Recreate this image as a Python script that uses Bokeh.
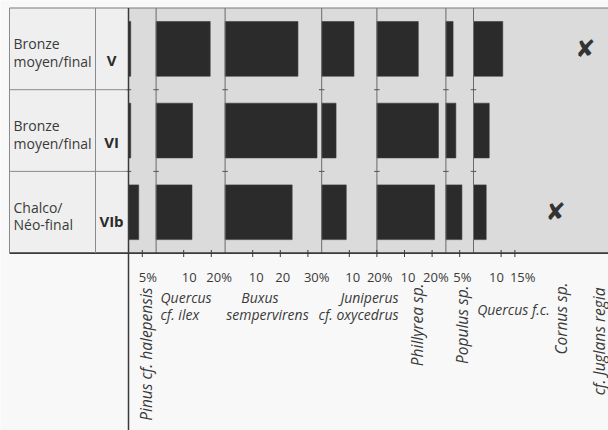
import math
from bokeh.plotting import figure
from bokeh.models import Range1d, ColumnDataSource
from bokeh.core.properties import value
from bokeh.embed import file_html
from bokeh.resources import INLINE

# ---------------- data ----------------
phases = ["V", "VI", "VIb"]
period_line1 = ["Bronze", "Bronze", "Chalco/"]
period_line2 = ["moyen/final", "moyen/final", "Néo-final"]

taxa = ["Pinus cf. halepensis", "Quercus cf. ilex", "Buxus sempervirens",
        "Juniperus cf. oxycedrus", "Phillyrea sp.", "Populus sp.", "Quercus f.c."]
panel_span = [10, 25, 35, 20, 25, 10, 30]          # % span of each taxon's scale

pct_V = [0.8, 19.6, 26.4, 11.7, 15.0, 2.6, 10.6]
pct_VI = [0.8, 13.2, 33.3, 5.2, 22.3, 3.6, 5.7]
pct_VIb = [3.7, 13.0, 24.3, 8.9, 20.9, 5.8, 4.6]

tick_values = [[5], [10, 20], [10, 20, 30], [10, 20], [10, 20], [5], [10, 15]]
tick_labels = [["5%"], ["10", "20%"], ["10", "20", "30%"], ["10", "20%"],
               ["10", "20%"], ["5%"], ["10", "15%"]]

presence_taxa = ["Cornus sp.", "cf. Juglans regia"]
presence_phase = ["VIb", "V"]                      # phase in which each is present (x)

# ---------------- layout ----------------
PX_PER_PCT = 2.76
ROW_PX = 81.7
W, H = 608, 430
X0_PAGE, TOP_PAGE = 128.0, 7.5

# small horizontal nudges (px) of tick labels, as placed in the original
tick_label_nudge = [0, 5, 2, 3, 2, 3, 3, -3, 3, -2, -3, -5, 2]

def xu(page_x):
    return (page_x - X0_PAGE) / PX_PER_PCT

def yu(page_y):
    return (page_y - TOP_PAGE) / ROW_PX

origins = []
acc = 0
for s in panel_span:
    origins.append(acc)
    acc += s

XMIN, XMAX = xu(0), xu(W)
YTOP, YBOT = yu(0), yu(H)
LEFT_BORDER = xu(9)
COL_SPLIT = xu(95)

p = figure(width=W, height=H, x_range=Range1d(XMIN, XMAX), y_range=Range1d(YBOT, YTOP),
           output_backend="svg", toolbar_location=None, x_axis_type=None, y_axis_type=None,
           min_border=0)
p.outline_line_color = None
p.background_fill_color = "#f8f8f8"
p.border_fill_color = "#f8f8f8"
p.grid.visible = False

# backgrounds
p.quad(left=[LEFT_BORDER], right=[0], top=[0], bottom=[3], fill_color="#efefef", line_color=None)
p.quad(left=[0], right=[XMAX + 5], top=[0], bottom=[3], fill_color="#dbdbdb", line_color=None)

# bars
all_pcts = [pct_V, pct_VI, pct_VIb]
bx_l, bx_r, by = [], [], []
for r, vals in enumerate(all_pcts):
    for o, v in zip(origins, vals):
        bx_l.append(o)
        bx_r.append(o + v)
        by.append(r + 0.5)
p.hbar(y=by, left=bx_l, right=bx_r, height=0.67, fill_color="#2b2b2b", line_color="#3a3a3a",
       line_width=0.6)

# panel separators
sep_x = origins[1:]
p.segment(x0=sep_x, x1=sep_x, y0=[0] * len(sep_x), y1=[3] * len(sep_x),
          line_color="#6a6a6a", line_width=1)

# small marks at row boundaries
mx, my = [], []
for o in origins:
    for rb in (1, 2):
        mx.append(o)
        my.append(rb)
p.segment(x0=[m - 1.0 for m in mx], x1=[m + 1.0 for m in mx], y0=my, y1=my,
          line_color="#555555", line_width=1)

# table frame lines
p.segment(x0=[LEFT_BORDER, LEFT_BORDER, LEFT_BORDER, LEFT_BORDER],
          x1=[XMAX + 5, 0, 0, XMAX + 5], y0=[0, 1, 2, 3], y1=[0, 1, 2, 3],
          line_color=["#7a7a7a", "#8a8a8a", "#8a8a8a", "#3a3a3a"], line_width=[1.2, 1, 1, 1.8])
p.segment(x0=[LEFT_BORDER, COL_SPLIT], x1=[LEFT_BORDER, COL_SPLIT], y0=[0, 0], y1=[3, 3],
          line_color="#8a8a8a", line_width=1)
p.segment(x0=[0], x1=[0], y0=[0], y1=[YBOT + 1], line_color="#3a3a3a", line_width=1.5)

# axis ticks and labels
tx, tl, toff = [], [], []
k = 0
for o, tv, tlab in zip(origins, tick_values, tick_labels):
    for v, lab in zip(tv, tlab):
        tx.append(o + v)
        tl.append(lab)
        toff.append(-3.5 * len(lab.rstrip("%")) + tick_label_nudge[k])
        k += 1
p.segment(x0=tx, x1=tx, y0=[yu(249.5)] * len(tx), y1=[yu(256.5)] * len(tx),
          line_color="#3a3a3a", line_width=1)
tsrc = ColumnDataSource(dict(x=tx, y=[yu(276.5)] * len(tx), text=tl, xo=toff))
p.text(x="x", y="y", text="text", x_offset="xo", source=tsrc, text_font=value("Open Sans"),
       text_font_size="13px", text_color="#3a3a3a", text_align="left",
       text_baseline="alphabetic")

# row labels
rows_y = [0, 1, 2]
p.text(x=[xu(13)] * 3, y=[r + 0.44 for r in rows_y], text=period_line1,
       text_font=value("Open Sans"), text_font_size="14px", text_color="#3a3a3a",
       text_align="left", text_baseline="alphabetic")
p.text(x=[xu(13)] * 3, y=[r + 0.655 for r in rows_y], text=period_line2,
       text_font=value("Open Sans"), text_font_size="14px", text_color="#3a3a3a",
       text_align="left", text_baseline="alphabetic")
p.text(x=[xu(111)] * 3, y=[0.64, 1.64, 2.61], text=phases,
       text_font=value("Open Sans"), text_font_size="15px", text_font_style="bold",
       text_color="#2a2a2a", text_align="center", text_baseline="alphabetic")

# taxon labels (horizontal, split in lines)
hz_x = [xu(160), xu(160), xu(259.5), xu(267), xu(398), xu(398), xu(476.7)]
hz_y = [yu(297), yu(314), yu(297), yu(314), yu(297), yu(314), yu(309)]
hz_t = ["Quercus", "cf. ilex", "Buxus", "sempervirens", "Juniperus", "cf. oxycedrus",
        taxa[6]]
hz_a = ["left", "left", "center", "center", "right", "right", "left"]
p.text(x=hz_x, y=hz_y, text=hz_t, text_align=hz_a, text_font=value("Open Sans"),
       text_font_size="14px", text_font_style="italic", text_color="#3a3a3a",
       text_baseline="alphabetic")

# rotated taxon labels
rot_t = [taxa[0], taxa[4], taxa[5], presence_taxa[0], presence_taxa[1]]
rot_x = [xu(145), xu(416.7), xu(461), xu(560), xu(598)]
rot_y = [yu(287), yu(283), yu(285), yu(282), yu(287)]
p.text(x=rot_x, y=rot_y, text=rot_t, angle=math.pi / 2, text_align="right",
       text_baseline="middle", text_font=value("Open Sans"), text_font_size="15.5px",
       text_font_style="italic", text_color="#3a3a3a")

# presence crosses
cross_col = {"Cornus sp.": xu(555), "cf. Juglans regia": xu(584.7)}
cx = [cross_col[t] for t in presence_taxa]
cy = [phases.index(ph) + 0.5 for ph in presence_phase]
p.text(x=cx, y=cy, text=["✘"] * len(cx), text_font=value("DejaVu Sans"),
       text_font_size="24px", text_color="#333333", text_align="center",
       text_baseline="middle")

open("out.html", "w").write(file_html(p, INLINE))
